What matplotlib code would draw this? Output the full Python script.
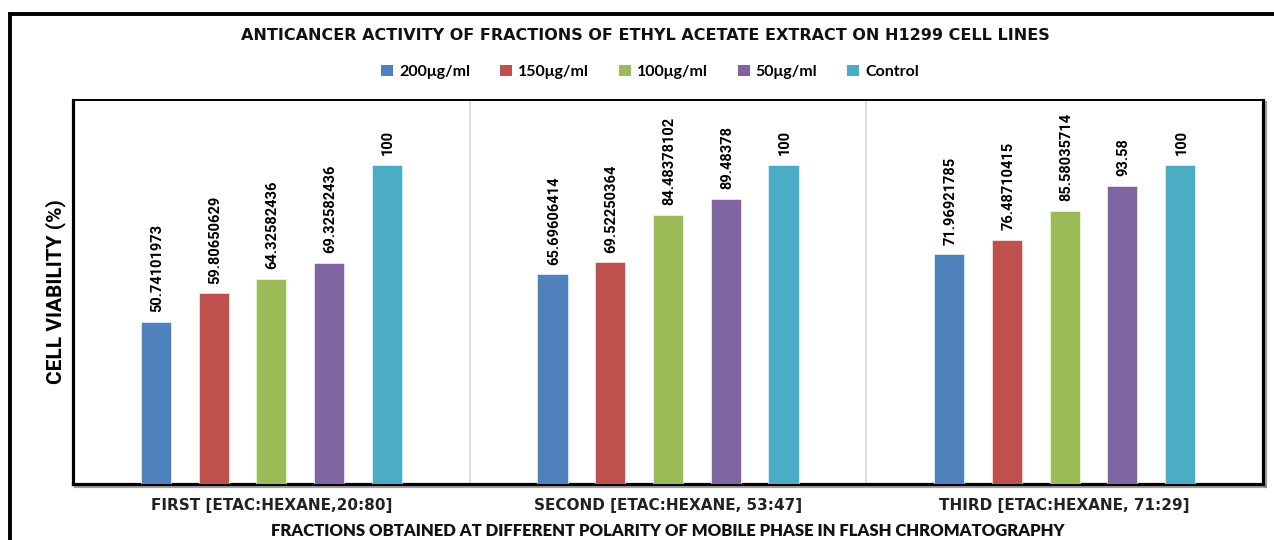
import matplotlib
matplotlib.use("Agg")
import matplotlib.pyplot as plt
from matplotlib.patches import Rectangle, Patch
from matplotlib import patheffects as pe
import numpy as np

# Data
fractions = ["FIRST [ETAC:HEXANE,20:80]",
             "SECOND [ETAC:HEXANE, 53:47]",
             "THIRD [ETAC:HEXANE, 71:29]"]
series_names = ["200μg/ml", "150μg/ml", "100μg/ml", "50μg/ml", "Control"]
conc_200 = [50.74101973, 65.69606414, 71.96921785]
conc_150 = [59.80650629, 69.52250364, 76.48710415]
conc_100 = [64.32582436, 84.48378102, 85.58035714]
conc_50 = [69.32582436, 89.48378, 93.58]
control = [100, 100, 100]
label_text = [
    ["50.74101973", "65.69606414", "71.96921785"],
    ["59.80650629", "69.52250364", "76.48710415"],
    ["64.32582436", "84.48378102", "85.58035714"],
    ["69.32582436", "89.48378", "93.58"],
    ["100", "100", "100"],
]
series_values = [conc_200, conc_150, conc_100, conc_50, control]
colors = ["#4F81BD", "#C0504D", "#9BBB59", "#8064A2", "#4BACC6"]

W, H = 1274, 540
fig = plt.figure(figsize=(W / 100, H / 100), dpi=100)
fig.patch.set_facecolor("white")

# Outer chart frame (runs off the right and bottom edges)
fig.add_artist(Rectangle((10 / W, -0.2), 1.2, 1 - 13.5 / H + 0.2,
                         transform=fig.transFigure, fill=False,
                         edgecolor="black", linewidth=2.8, zorder=0))

ax = fig.add_axes([73 / W, 1 - 484 / H, (1263 - 73) / W, (484 - 100) / H])

x = np.arange(len(fractions))
step = 0.1455
width = 0.076
narrow = ["Roboto", "DejaVu Sans"]
for i, (vals, col, name) in enumerate(zip(series_values, colors, series_names)):
    pos = x + (i - 2) * step
    bars = ax.bar(pos, vals, width=width, color=col, edgecolor="white",
                  linewidth=0.4, label=name, zorder=3)
    for b, txt in zip(bars, label_text[i]):
        ax.annotate(txt, (b.get_x() + b.get_width() / 2, b.get_height()),
                    xytext=(1, 7), textcoords="offset points",
                    rotation=90, ha="center", va="bottom",
                    fontsize=10.5, fontweight="bold", family=narrow,
                    color="black")

ax.set_xlim(-0.5, 2.5)
ax.set_ylim(0, 120.4)
ax.set_yticks([])
ax.set_xticks(x)
ax.set_xticklabels(fractions, fontsize=11, fontweight="bold",
                   family="DejaVu Sans", color="#222222")
ax.tick_params(axis="x", length=0, pad=10)
for b in [0.5, 1.5]:
    ax.axvline(b, color="#d9d9d9", linewidth=1.2, zorder=1)

for side, lw in [("left", 2.3), ("right", 2.3), ("bottom", 2.3), ("top", 1.4)]:
    ax.spines[side].set_linewidth(lw)
    ax.spines[side].set_color("black")
for side in ["right", "bottom"]:
    ax.spines[side].set_path_effects([
        pe.SimpleLineShadow(offset=(1.2, -1.2), shadow_color="#888888", alpha=0.8),
        pe.Normal()])

ax.set_ylabel("CELL VIABILITY (%)", fontsize=15, fontweight="bold", family=narrow)
ax.yaxis.set_label_coords(-0.0143, 0.5)
ax.yaxis.label.set(va="center", ha="center")

fig.text(0.5 * (205 + 1085) / W, 1 - 35 / H,
         "ANTICANCER ACTIVITY OF FRACTIONS OF ETHYL ACETATE EXTRACT ON H1299 CELL LINES",
         ha="center", va="center", fontsize=11.5, fontweight="bold",
         family="DejaVu Sans", color="#111111")

fig.text(668 / W, 1 - 531 / H,
         "FRACTIONS OBTAINED AT DIFFERENT POLARITY OF MOBILE PHASE IN FLASH CHROMATOGRAPHY",
         ha="center", va="center", fontsize=12, fontweight="heavy",
         family="Lato", color="#111111")

handles = [Patch(facecolor=c, edgecolor="none") for c in colors]
fig.legend(handles, series_names, loc="center", ncol=5,
           bbox_to_anchor=(650 / W, 1 - 72 / H), frameon=False,
           handlelength=0.75, handleheight=0.75, handletextpad=0.35,
           columnspacing=1.9, prop={"family": "Lato", "weight": "bold", "size": 11.5})

fig.savefig("out.png", dpi=100)
